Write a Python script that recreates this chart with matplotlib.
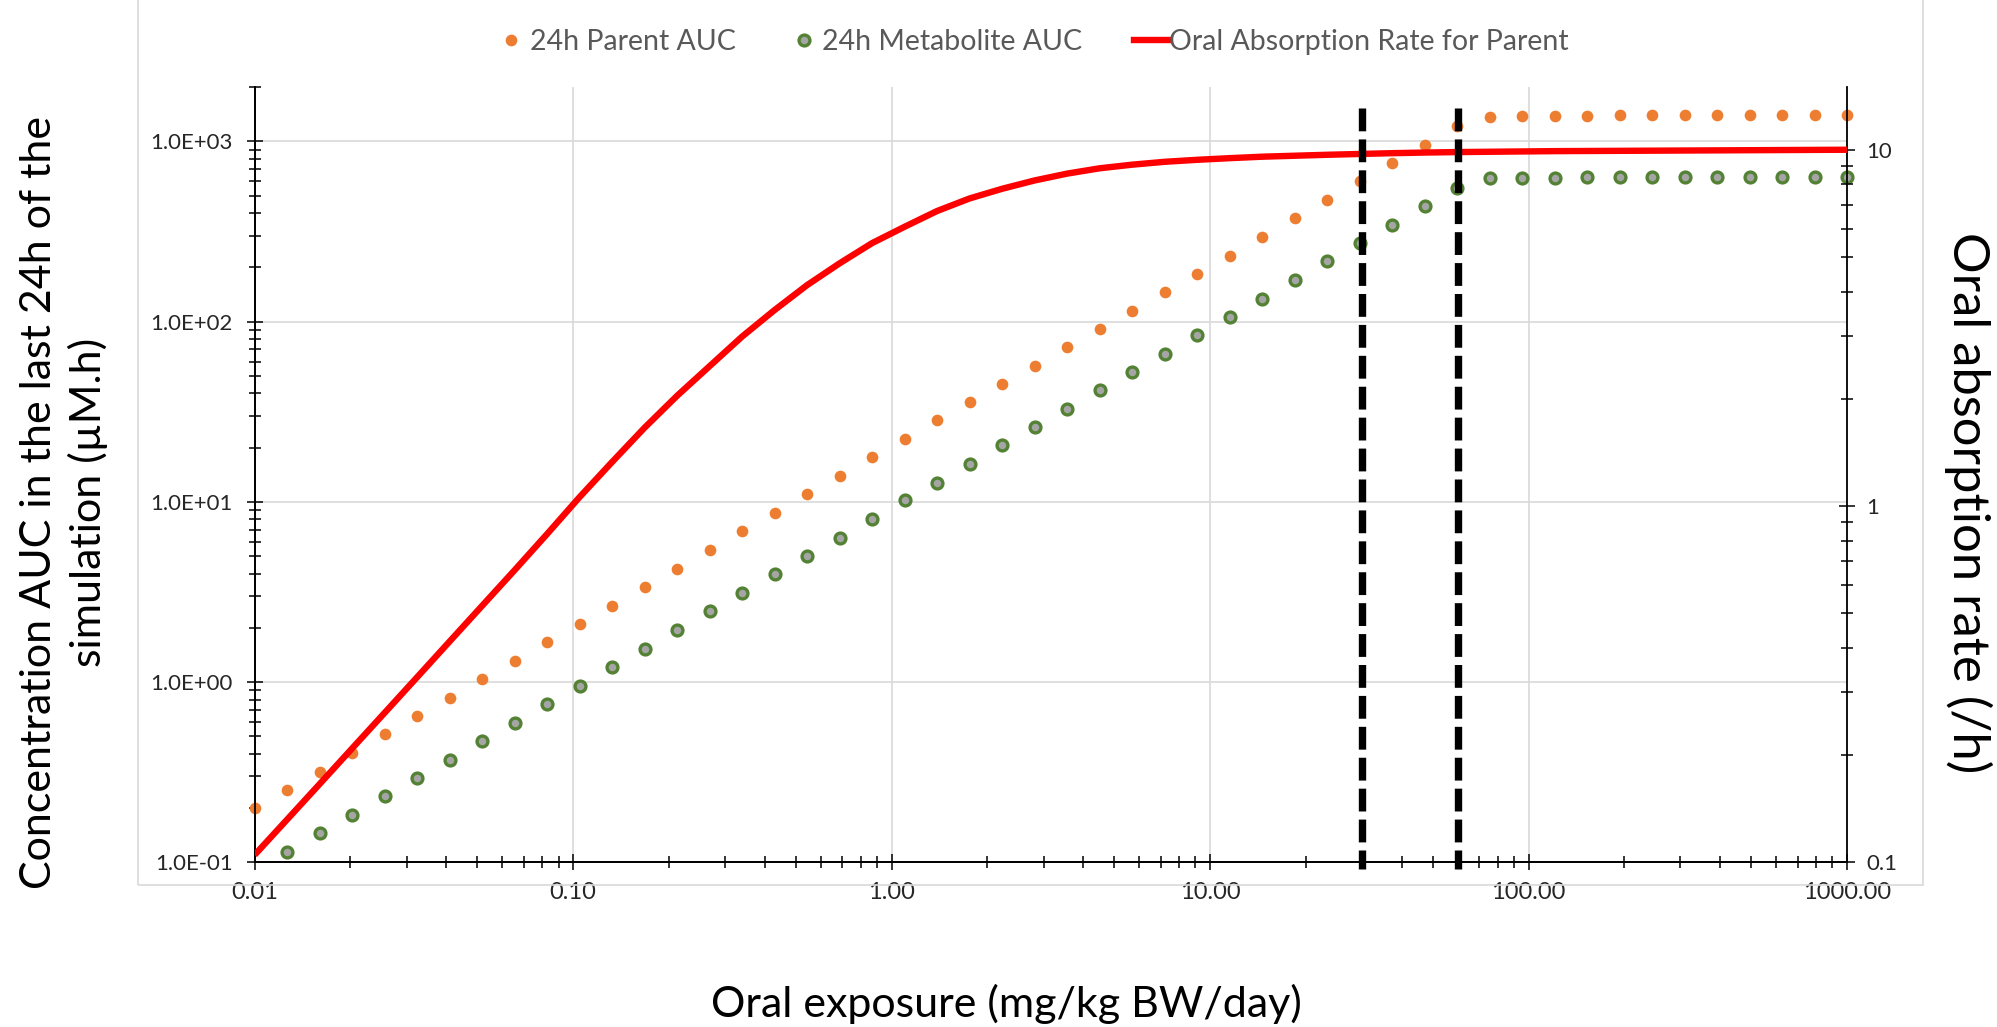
import matplotlib
matplotlib.use("Agg")
import matplotlib.pyplot as plt
from matplotlib.lines import Line2D
from matplotlib.patches import Rectangle
from matplotlib.ticker import FixedLocator, FuncFormatter, LogLocator, NullFormatter
from matplotlib.transforms import blended_transform_factory

plt.rcParams["font.family"] = ["Lato", "DejaVu Sans"]

# oral exposure (mg/kg BW/day), 50 log-spaced doses
dose = [0.0100, 0.01265, 0.01600, 0.02024, 0.02560, 0.03237, 0.04095, 0.05179,
        0.06551, 0.08286, 0.1048, 0.1326, 0.1677, 0.2121, 0.2683, 0.3393,
        0.4292, 0.5429, 0.6866, 0.8685, 1.099, 1.389, 1.758, 2.223, 2.812,
        3.556, 4.498, 5.690, 7.197, 9.103, 11.51, 14.56, 18.42, 23.30, 29.47,
        37.28, 47.15, 59.64, 75.43, 95.41, 120.7, 152.6, 193.1, 244.2, 308.9,
        390.7, 494.2, 625.1, 790.6, 1000.0]

# 24h AUC (uM.h), left axis
parent_auc = [0.200, 0.252, 0.319, 0.405, 0.514, 0.647, 0.821, 1.04, 1.31, 1.67,
              2.11, 2.65, 3.36, 4.27, 5.39, 6.85, 8.73, 11.0, 13.9, 17.7,
              22.3, 28.3, 35.9, 44.9, 56.8, 72.1, 91.5, 115, 146, 184,
              232, 294, 374, 472, 600, 758, 955, 1208, 1370, 1383,
              1383, 1383, 1394, 1394, 1394, 1394, 1394, 1394, 1394, 1394]
metabolite_auc = [float("nan"), 0.115, 0.145, 0.184, 0.234, 0.293, 0.372, 0.472, 0.594, 0.755,
                  0.957, 1.22, 1.53, 1.94, 2.47, 3.11, 3.96, 5.01, 6.31, 8.01,
                  10.2, 12.8, 16.3, 20.6, 25.9, 32.8, 41.6, 52.2, 66.2, 84.0,
                  106, 133, 169, 216, 272, 345, 438, 551, 622, 627,
                  627, 635, 635, 635, 635, 635, 635, 635, 635, 635]

# oral absorption rate (/h), right axis
absorption_rate = [0.105, 0.132, 0.166, 0.209, 0.263, 0.331, 0.417, 0.525, 0.661, 0.835,
                   1.06, 1.33, 1.66, 2.04, 2.47, 2.99, 3.55, 4.17, 4.80, 5.47,
                   6.08, 6.73, 7.30, 7.77, 8.20, 8.57, 8.87, 9.08, 9.25, 9.37,
                   9.47, 9.56, 9.62, 9.68, 9.73, 9.78, 9.82, 9.85, 9.87, 9.89,
                   9.91, 9.92, 9.93, 9.94, 9.95, 9.96, 9.97, 9.98, 9.99, 10.0]

thresholds = [30, 60]

x_ticks = [0.01, 0.1, 1, 10, 100, 1000]
y_ticks = [0.1, 1, 10, 100, 1000]
y2_ticks = [0.1, 1, 10]

ORANGE = "#ED7D31"
GREEN = "#548235"
GREY = "#A5A5A5"
RED = "#FF0000"
TICK_COLOR = "#262626"

fig = plt.figure(figsize=(19.97, 10.27), dpi=100)

# light outer chart border
fig.patches.append(Rectangle((138 / 1997, 1 - 885 / 1027), 1785 / 1997, 885 / 1027 + 0.02,
                             transform=fig.transFigure, fill=False,
                             edgecolor="#D9D9D9", lw=1.2, zorder=0))

ax = fig.add_axes([0.1275, 0.1602, 0.7974, 0.7551])
ax.set_xscale("log")
ax.set_yscale("log")
ax.set_xlim(0.01, 1000)
ax.set_ylim(0.1, 2000)

ax.plot(dose, parent_auc, "o", ms=8.4, color=ORANGE, mec="none", clip_on=False, zorder=3)
ax.plot(dose, metabolite_auc, "o", ms=7.8, mfc=GREY, mec=GREEN, mew=2.4, clip_on=False, zorder=3)

ax.grid(True, which="major", color="#D9D9D9", lw=1.2)
ax.set_axisbelow(True)

ax2 = ax.twinx()
ax2.set_yscale("log")
ax2.set_ylim(0.1, 15)
ax2.plot(dose, absorption_rate, color=RED, lw=4.6, solid_capstyle="butt", zorder=3)

# threshold markers, drawn top-down so the dash pattern starts at the top
vtrans = blended_transform_factory(ax2.transData, ax2.transAxes)
for t in thresholds:
    ax2.plot([t, t], [0.973, -0.009], transform=vtrans, color="black", lw=5.3,
             dashes=(3.1, 1.1), clip_on=False, zorder=4)

# ticks
ax.xaxis.set_major_locator(FixedLocator(x_ticks))
ax.xaxis.set_major_formatter(FuncFormatter(lambda v, p: f"{v:.2f}"))
ax.xaxis.set_minor_locator(LogLocator(base=10, subs=range(2, 10)))
ax.xaxis.set_minor_formatter(NullFormatter())
ax.yaxis.set_major_locator(FixedLocator(y_ticks))
ax.yaxis.set_major_formatter(FuncFormatter(lambda v, p: f"{v:.1E}"))
ax.yaxis.set_minor_locator(LogLocator(base=10, subs=range(2, 10)))
ax.yaxis.set_minor_formatter(NullFormatter())
ax2.yaxis.set_major_locator(FixedLocator(y2_ticks))
ax2.yaxis.set_major_formatter(FuncFormatter(lambda v, p: f"{v:g}"))
ax2.yaxis.set_minor_locator(LogLocator(base=10, subs=range(2, 10)))
ax2.yaxis.set_minor_formatter(NullFormatter())

for a in (ax, ax2):
    a.tick_params(which="major", direction="inout", length=11.5, width=1.1,
                  colors="black", labelcolor=TICK_COLOR, labelsize=16)
    a.tick_params(which="minor", direction="inout", length=8, width=1.1, colors="black")
    a.spines["top"].set_visible(False)
    for s in ("left", "right", "bottom"):
        a.spines[s].set_linewidth(1.3)
ax.tick_params(axis="x", labelsize=17, pad=8)
ax.tick_params(axis="y", pad=10)
ax2.tick_params(axis="y", pad=8)
ax.spines["right"].set_visible(False)

# axis titles
fig.text(0.032, 0.511, "Concentration AUC in the last 24h of the\nsimulation (µM.h)",
         rotation=90, ha="center", va="center", fontsize=31, linespacing=1.3)
fig.text(0.9855, 0.5102, "Oral absorption rate (/h)", rotation=270,
         ha="center", va="center", fontsize=36.5)
fig.text(0.5038, 0.0224, "Oral exposure (mg/kg BW/day)", ha="center", va="center", fontsize=31)

# legend
handles = [
    Line2D([], [], ls="none", marker="o", ms=8.4, color=ORANGE, mec="none"),
    Line2D([], [], ls="none", marker="o", ms=7.8, mfc=GREY, mec=GREEN, mew=2.4),
    Line2D([], [], color=RED, lw=4.6),
]
labels = ["24h Parent AUC", "24h Metabolite AUC", "Oral Absorption Rate for Parent"]
fig.legend(handles, labels, loc="center", bbox_to_anchor=(0.5165, 1 - 42 / 1027), ncol=3,
           frameon=False, fontsize=20.5, handlelength=1.2, handletextpad=0.05,
           columnspacing=1.8, labelcolor="#595959")

fig.savefig("out.png", dpi=100)
